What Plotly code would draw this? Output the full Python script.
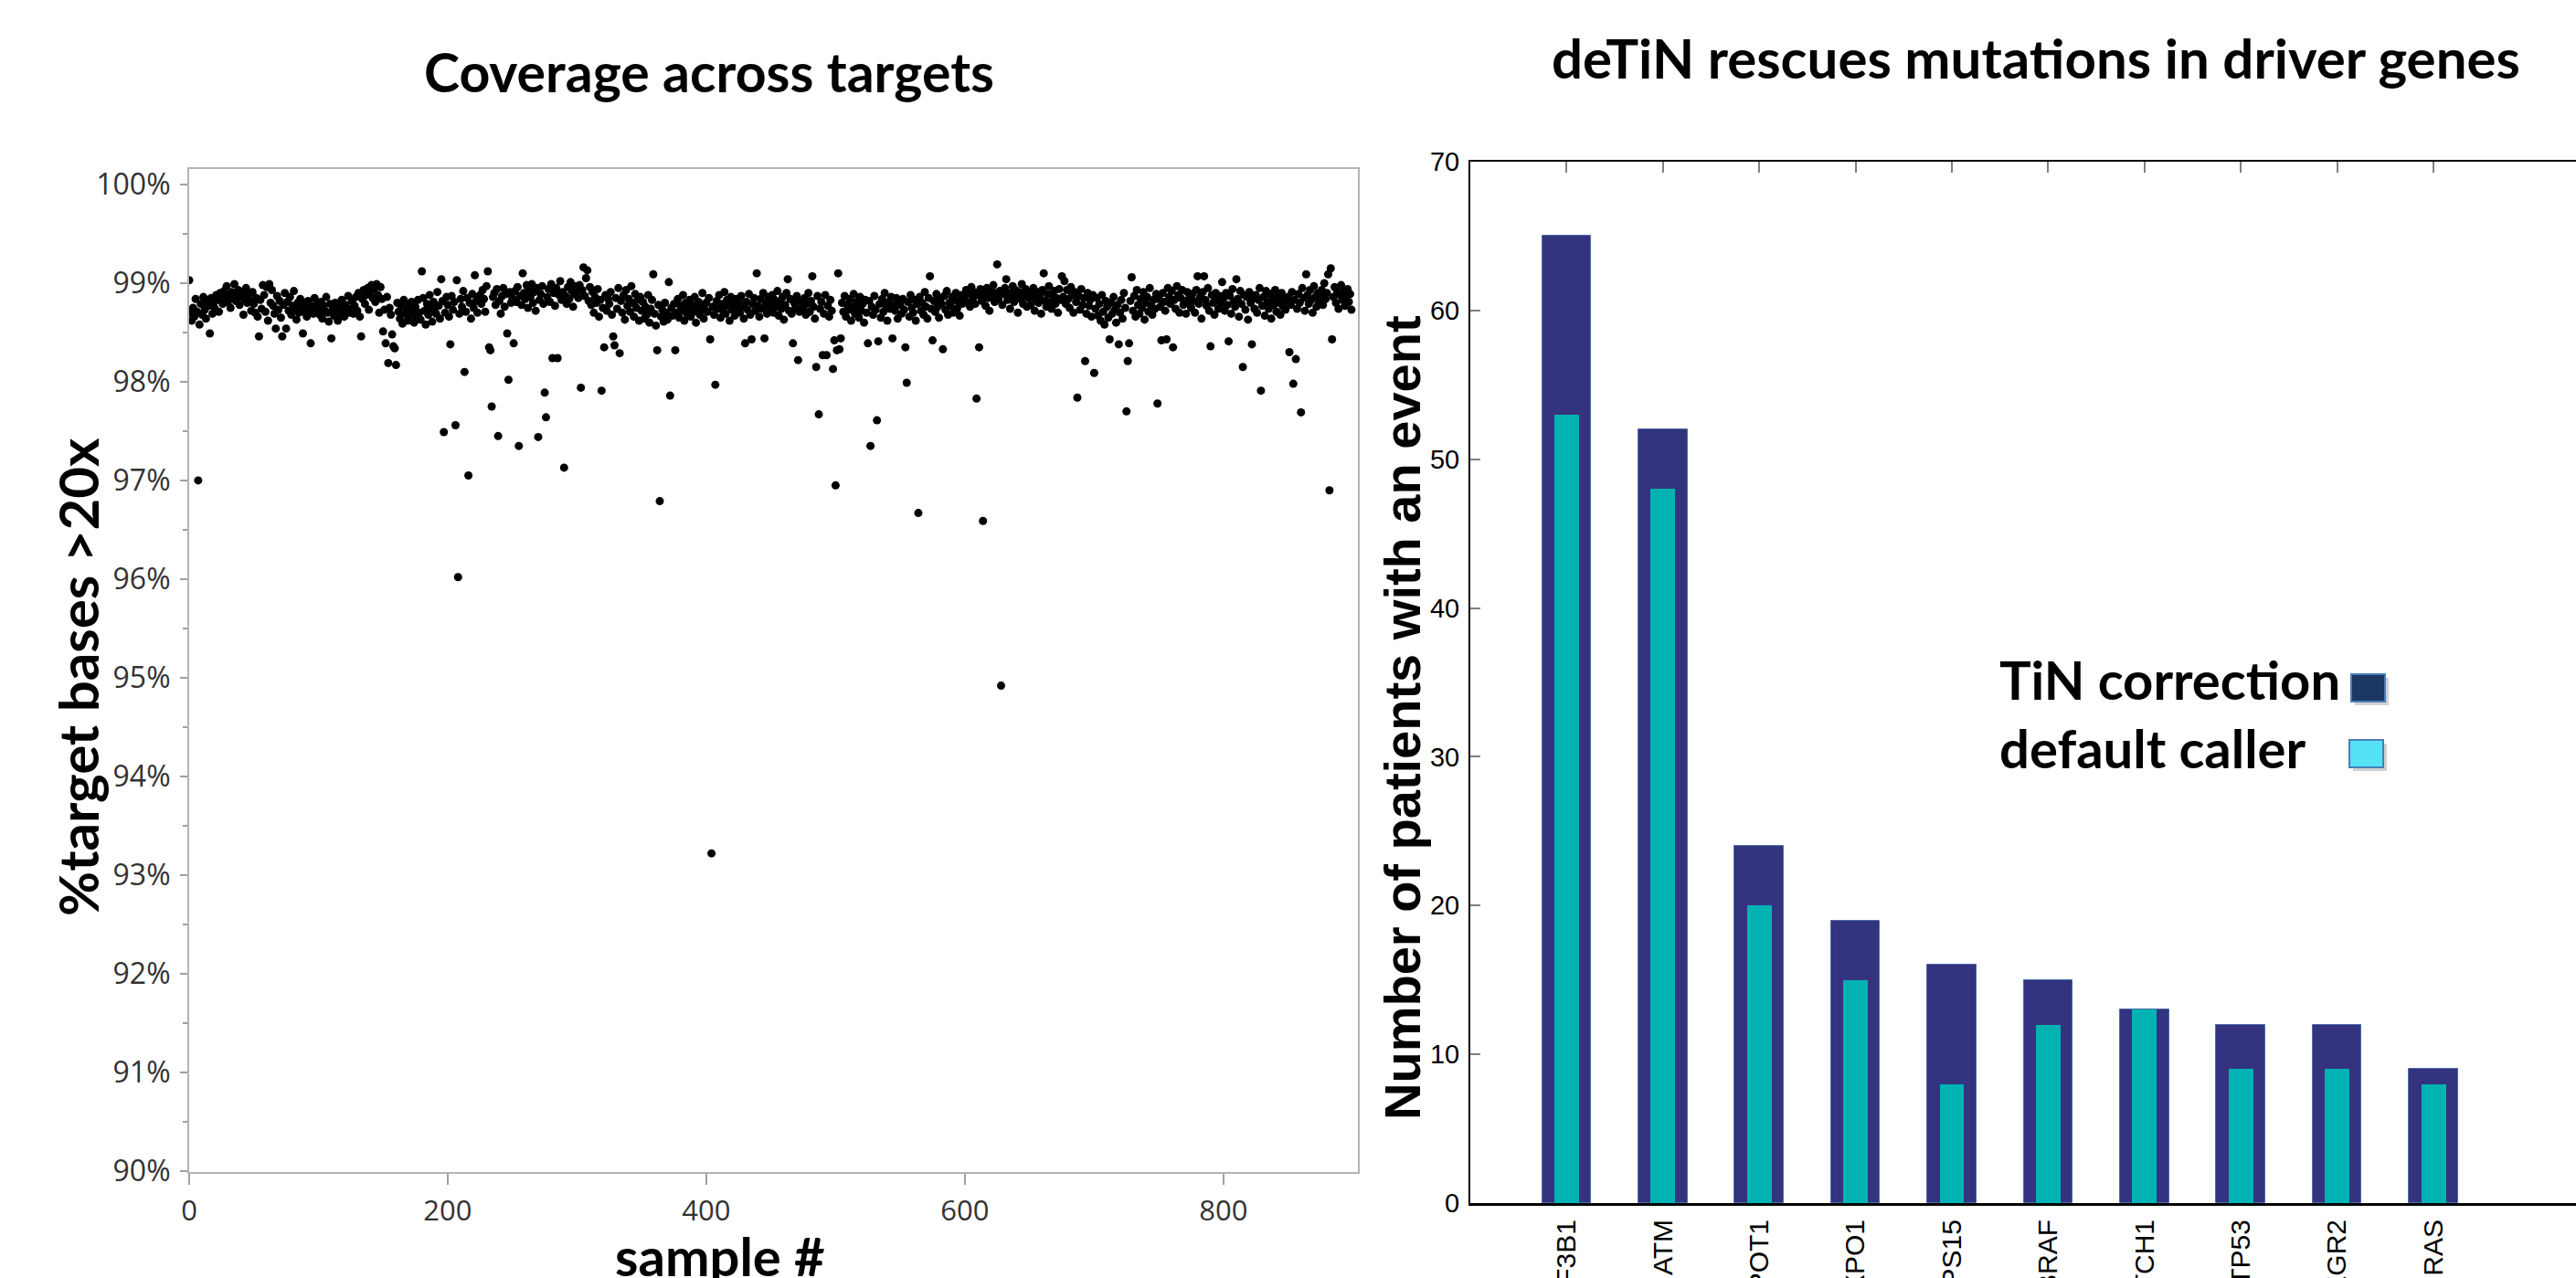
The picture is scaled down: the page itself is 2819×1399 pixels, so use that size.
import plotly.graph_objects as go

W, H = 2819, 1399


def px(x):
    return x / W


def py(y):
    return 1 - y / H


# ---- left chart: % target bases > 20x per sample (percent) ----
coverage = [
    99.03, 98.70, 98.62, 98.75, 98.66, 98.84, 98.71, 97.00, 98.58, 98.79, 98.68, 98.86, 98.73, 98.64, 98.82, 98.77, 98.49, 98.85, 98.69, 98.80, 98.74, 98.88, 98.83, 98.71, 98.90,
    98.86, 98.79, 98.92, 98.84, 98.97, 98.81, 98.88, 98.75, 98.91, 98.85, 98.99, 98.82, 98.87, 98.93, 98.78, 98.86, 98.90, 98.68, 98.84, 98.95, 98.80, 98.88, 98.83, 98.72, 98.91,
    98.79, 98.70, 98.85, 98.66, 98.46, 98.83, 98.74, 98.98, 98.88, 98.71, 98.96, 98.62, 98.99, 98.80, 98.93, 98.77, 98.69, 98.54, 98.87, 98.73, 98.82, 98.65, 98.46, 98.78, 98.90,
    98.54, 98.81, 98.72, 98.86, 98.68, 98.77, 98.92, 98.74, 98.63, 98.80, 98.70, 98.84, 98.76, 98.49, 98.71, 98.79, 98.66, 98.82, 98.73, 98.39, 98.77, 98.69, 98.85, 98.72, 98.78,
    98.75, 98.68, 98.81, 98.64, 98.77, 98.72, 98.86, 98.70, 98.61, 98.79, 98.44, 98.73, 98.67, 98.80, 98.74, 98.62, 98.76, 98.69, 98.83, 98.71, 98.66, 98.78, 98.73, 98.87, 98.70,
    98.74, 98.82, 98.69, 98.77, 98.86, 98.72, 98.90, 98.66, 98.46, 98.84, 98.93, 98.79, 98.88, 98.95, 98.73, 98.91, 98.98, 98.85, 98.94, 98.81, 98.99, 98.88, 98.70, 98.96, 98.84,
    98.51, 98.73, 98.39, 98.86, 98.19, 98.75, 98.68, 98.48, 98.36, 98.34, 98.17, 98.80, 98.71, 98.64, 98.77, 98.59, 98.83, 98.69, 98.74, 98.62, 98.78, 98.67, 98.81, 98.72, 98.60,
    98.76, 98.66, 98.83, 98.70, 98.63, 99.12, 98.85, 98.72, 98.58, 98.79, 98.68, 98.88, 98.74, 98.61, 98.81, 98.75, 98.69, 98.91, 98.77, 98.64, 99.04, 98.82, 97.49, 98.70, 98.86,
    98.78, 98.66, 98.38, 98.87, 98.73, 98.81, 97.56, 99.03, 96.02, 98.69, 98.84, 98.76, 98.92, 98.10, 98.71, 98.85, 97.05, 98.80, 98.64, 98.89, 98.75, 99.08, 98.82, 98.70, 98.86,
    98.88, 98.79, 98.93, 98.84, 98.71, 98.97, 99.12, 98.35, 98.32, 97.75, 98.86, 98.90, 98.78, 98.94, 97.45, 98.82, 98.69, 98.87, 98.95, 98.76, 98.89, 98.49, 98.02, 98.91, 98.80,
    98.85, 98.39, 98.92, 98.81, 98.96, 97.35, 98.87, 98.78, 99.10, 98.90, 98.84, 98.98, 98.75, 98.93, 98.86, 98.99, 98.80, 98.91, 98.72, 98.95, 97.44, 98.83, 98.89, 98.97, 98.79,
    97.89, 97.64, 98.86, 98.94, 98.81, 98.99, 98.24, 98.90, 98.77, 98.95, 98.24, 98.88, 99.02, 98.83, 98.91, 97.13, 98.87, 98.79, 98.96, 98.84, 99.01, 98.92, 98.76, 98.89, 98.97,
    98.90, 98.85, 98.98, 97.94, 98.93, 99.16, 98.87, 99.05, 99.13, 98.82, 98.96, 98.78, 98.91, 98.70, 98.86, 98.80, 98.94, 98.66, 98.83, 97.91, 98.75, 98.35, 98.88, 98.72, 98.84,
    98.79, 98.91, 98.68, 98.46, 98.37, 98.85, 98.74, 98.95, 98.29, 98.82, 98.70, 98.88, 98.63, 98.93, 98.77, 98.84, 98.71, 98.97, 98.80, 98.66, 98.89, 98.75, 98.83, 98.62, 98.86,
    98.72, 98.81, 98.64, 98.76, 98.68, 98.88, 98.60, 98.74, 98.83, 99.09, 98.69, 98.57, 98.32, 98.78, 96.79, 98.66, 98.73, 98.61, 98.80, 98.70, 98.63, 99.01, 97.86, 98.75, 98.67,
    98.79, 98.32, 98.70, 98.84, 98.65, 98.77, 98.72, 98.88, 98.62, 98.80, 98.69, 98.75, 98.83, 98.66, 98.78, 98.71, 98.86, 98.60, 98.74, 98.81, 98.68, 98.77, 98.90, 98.64, 98.73,
    98.80, 98.71, 98.85, 98.43, 93.22, 98.76, 98.68, 97.97, 98.82, 98.74, 98.88, 98.65, 98.79, 98.72, 98.91, 98.69, 98.83, 98.77, 98.62, 98.86, 98.73, 98.80, 98.67, 98.84, 98.75,
    98.82, 98.70, 98.87, 98.76, 98.64, 98.39, 98.81, 98.73, 98.89, 98.68, 98.43, 98.79, 98.85, 98.72, 99.10, 98.77, 98.66, 98.84, 98.74, 98.90, 98.44, 98.80, 98.69, 98.86, 98.75,
    98.79, 98.88, 98.70, 98.83, 98.76, 98.92, 98.67, 98.81, 98.74, 98.86, 98.63, 98.78, 98.90, 99.04, 98.72, 98.84, 98.69, 98.39, 98.80, 98.75, 98.87, 98.22, 98.71, 98.82, 98.77,
    98.73, 98.85, 98.68, 98.79, 98.90, 98.71, 98.82, 99.07, 98.76, 98.64, 98.15, 98.87, 97.67, 98.74, 98.81, 98.27, 98.69, 98.88, 98.27, 98.77, 98.66, 98.83, 98.72, 98.13, 98.42,
    96.95, 98.32, 99.10, 98.33, 98.44, 98.80, 98.71, 98.87, 98.66, 98.78, 98.73, 98.84, 98.62, 98.76, 98.89, 98.69, 98.81, 98.74, 98.65, 98.86, 98.72, 98.79, 98.60, 98.83, 98.70,
    98.39, 98.82, 97.35, 98.76, 98.68, 98.87, 98.73, 97.61, 98.41, 98.79, 98.65, 98.84, 98.71, 98.90, 98.77, 98.62, 98.81, 98.74, 98.86, 98.44, 98.78, 98.72, 98.85, 98.64, 98.80,
    98.78, 98.69, 98.84, 98.73, 98.35, 97.99, 98.81, 98.66, 98.88, 98.75, 98.70, 98.83, 98.62, 98.79, 96.67, 98.86, 98.72, 98.80, 98.68, 98.91, 98.76, 98.64, 98.85, 99.07, 98.74,
    98.42, 98.82, 98.71, 98.89, 98.76, 98.65, 98.84, 98.79, 98.33, 98.87, 98.73, 98.92, 98.68, 98.80, 98.77, 98.86, 98.70, 98.83, 98.90, 98.74, 98.81, 98.67, 98.88, 98.79, 98.85,
    98.87, 98.93, 98.80, 98.90, 98.76, 98.96, 98.84, 98.91, 98.79, 97.83, 98.88, 98.35, 98.94, 98.82, 96.59, 98.89, 98.77, 98.95, 98.85, 98.72, 98.92, 98.86, 98.98, 98.81, 98.90,
    99.19, 98.84, 98.92, 94.92, 98.78, 98.89, 98.95, 99.04, 98.83, 98.90, 98.74, 98.87, 98.97, 98.81, 98.93, 98.86, 98.70, 98.91, 98.84, 98.99, 98.79, 98.88, 98.94, 98.76, 98.85,
    98.90, 98.78, 98.86, 98.95, 98.72, 98.84, 98.91, 98.80, 98.87, 98.69, 98.93, 99.10, 98.82, 98.76, 98.89, 98.97, 98.81, 98.74, 98.88, 98.92, 98.79, 98.85, 98.70, 98.94, 98.83,
    99.07, 98.86, 99.02, 98.79, 98.93, 98.84, 98.75, 98.96, 98.88, 98.70, 98.91, 98.81, 97.84, 98.87, 98.73, 98.94, 98.78, 98.85, 98.21, 98.69, 98.90, 98.77, 98.83, 98.66, 98.88,
    98.09, 98.74, 98.85, 98.67, 98.79, 98.62, 98.88, 98.71, 98.58, 98.82, 98.76, 98.65, 98.43, 98.80, 98.69, 98.86, 98.73, 98.60, 98.78, 98.38, 98.70, 98.83, 98.64, 98.90, 98.75,
    97.70, 98.21, 98.39, 98.82, 99.06, 98.72, 98.87, 98.66, 98.93, 98.78, 98.69, 98.84, 98.75, 98.91, 98.63, 98.80, 98.86, 98.71, 98.95, 98.77, 98.68, 98.83, 98.74, 98.89, 97.78,
    98.84, 98.76, 98.42, 98.90, 98.81, 98.72, 98.43, 98.95, 98.86, 98.79, 98.92, 98.35, 98.83, 98.74, 98.97, 98.88, 98.70, 98.85, 98.93, 98.78, 98.82, 98.69, 98.91, 98.80, 98.87,
    98.75, 98.89, 98.82, 98.70, 98.93, 99.07, 98.79, 98.86, 98.64, 98.91, 99.07, 98.83, 98.77, 98.95, 98.72, 98.36, 98.88, 98.80, 98.68, 98.90, 98.84, 98.74, 98.87, 98.79, 99.01,
    98.85, 98.72, 98.90, 98.78, 98.41, 98.87, 98.69, 98.94, 98.81, 98.76, 99.04, 98.84, 98.66, 98.92, 98.79, 98.15, 98.88, 98.73, 98.86, 98.63, 98.91, 98.80, 98.38, 98.85, 98.74,
    98.88, 98.70, 98.83, 98.95, 97.91, 98.77, 98.86, 98.67, 98.92, 98.81, 98.74, 98.89, 98.64, 98.84, 98.78, 98.93, 98.71, 98.87, 98.80, 98.68, 98.90, 98.76, 98.85, 98.73, 98.82,
    98.86, 98.30, 98.78, 98.91, 97.98, 98.83, 98.23, 98.74, 98.89, 98.80, 97.69, 98.95, 98.85, 98.72, 99.09, 98.88, 98.79, 98.93, 98.83, 98.70, 98.97, 98.86, 98.76, 98.90, 98.81,
    98.87, 98.93, 98.78, 99.00, 98.84, 98.90, 99.09, 96.90, 99.15, 98.43, 98.86, 98.96, 98.80, 98.91, 98.74, 98.88, 98.98, 98.83, 98.92, 98.77, 98.85, 98.94, 98.81, 98.89, 98.73,
]
sample_number = list(range(len(coverage)))
cov_tick_vals = [90, 91, 92, 93, 94, 95, 96, 97, 98, 99, 100]
cov_tick_text = ["90%", "91%", "92%", "93%", "94%", "95%", "96%", "97%", "98%", "99%", "100%"]
cov_minor_vals = [90.5, 91.5, 92.5, 93.5, 94.5, 95.5, 96.5, 97.5, 98.5, 99.5]
sample_tick_vals = [0, 200, 400, 600, 800]

# ---- right chart: patients with an event per driver gene ----
genes = ["SF3B1", "ATM", "POT1", "XPO1", "RPS15", "BRAF", "NOTCH1", "TP53", "EGR2", "NRAS"]
tin_correction = [65, 52, 24, 19, 16, 15, 13, 12, 12, 9]
default_caller = [53, 48, 20, 15, 8, 12, 13, 9, 9, 8]
count_tick_vals = [0, 10, 20, 30, 40, 50, 60, 70]

CAL = "Lato"
ARIAL = "Liberation Sans"

fig = go.Figure()
fig.add_trace(go.Scatter(
    x=sample_number, y=coverage, mode="markers",
    marker=dict(color="black", size=9, line=dict(width=0)),
    xaxis="x", yaxis="y", showlegend=False, hoverinfo="x+y"))
fig.add_trace(go.Bar(
    x=genes, y=tin_correction, width=0.51, name="TiN correction",
    marker=dict(color="#333380", line=dict(color="#4b6fa5", width=1)),
    xaxis="x2", yaxis="y2", showlegend=False))
fig.add_trace(go.Bar(
    x=genes, y=default_caller, width=0.256, name="default caller",
    marker=dict(color="#00b3b3", line=dict(width=0)),
    xaxis="x2", yaxis="y2", showlegend=False))
# invisible helper so the top axis carries the same categories (for its tick marks)
fig.add_trace(go.Scatter(
    x=genes, y=tin_correction, mode="markers", marker=dict(opacity=0),
    xaxis="x3", yaxis="y2", showlegend=False, hoverinfo="skip"))

fig.update_layout(
    width=W, height=H, autosize=False,
    margin=dict(l=0, r=0, t=0, b=0),
    paper_bgcolor="white", plot_bgcolor="white",
    barmode="overlay", bargap=0, showlegend=False,
    xaxis=dict(
        domain=[px(207), px(1486)], range=[0, 904], anchor="y",
        tickmode="array", tickvals=sample_tick_vals,
        ticks="outside", ticklen=12, tickwidth=1.5, tickcolor="#a0a0a0",
        showline=True, linecolor="#b4b4b4", linewidth=2, mirror=True,
        showgrid=False, zeroline=False,
        tickfont=dict(family="Open Sans", size=31, color="#333333"),
        ticklabelstandoff=2, automargin=False),
    yaxis=dict(
        domain=[py(1283), py(185)], range=[89.99, 100.157], anchor="x",
        tickmode="array", tickvals=cov_tick_vals, ticktext=cov_tick_text,
        ticks="outside", ticklen=8, tickwidth=1.5, tickcolor="#a0a0a0",
        minor=dict(tickmode="array", tickvals=cov_minor_vals, ticks="outside",
                   ticklen=5, tickwidth=1.5, tickcolor="#a0a0a0", showgrid=False),
        showline=True, linecolor="#b4b4b4", linewidth=2, mirror=True,
        showgrid=False, zeroline=False,
        tickfont=dict(family="Open Sans", size=32, color="#333333"),
        ticklabelstandoff=4, automargin=False),
    xaxis2=dict(
        domain=[px(1609), 1.0], range=[-1, 10.48], type="category", anchor="y2",
        categoryorder="array", categoryarray=genes,
        ticks="", tickangle=-90, showline=True, linecolor="black", linewidth=3,
        showgrid=False, zeroline=False,
        tickfont=dict(family=ARIAL, size=30, color="black"),
        ticklabelstandoff=3, automargin=False),
    xaxis3=dict(
        overlaying="x2", side="top", anchor="y2", range=[-1, 10.48], type="category",
        categoryorder="array", categoryarray=genes,
        ticks="inside", ticklen=12, tickwidth=2, tickcolor="#808080",
        showticklabels=False, showline=True, linecolor="black", linewidth=2,
        showgrid=False, zeroline=False, automargin=False),
    yaxis2=dict(
        domain=[py(1317), py(177)], range=[0, 70], anchor="x2",
        tickmode="array", tickvals=count_tick_vals,
        ticks="inside", ticklen=11, tickwidth=2, tickcolor="#808080",
        showline=True, linecolor="black", linewidth=2,
        showgrid=False, zeroline=False,
        tickfont=dict(family=ARIAL, size=29, color="black"),
        ticklabelstandoff=4, automargin=False),
)

annotations = [
    dict(text="<b>Coverage across targets</b>", x=px(776), y=py(79),
         font=dict(family=CAL, size=59, color="black")),
    dict(text="<b>deTiN rescues mutations in driver genes</b>", x=px(2228), y=py(63),
         font=dict(family=CAL, size=60, color="black")),
    dict(text="<b>%target bases >20x</b>", x=px(85), y=py(741), textangle=-90,
         font=dict(family=CAL, size=60, color="black")),
    dict(text="<b>sample #</b>", x=px(788), y=py(1374),
         font=dict(family=CAL, size=58, color="black")),
    dict(text="<b>Number of patients with an event</b>", x=px(1534), y=py(786), textangle=-90,
         font=dict(family=ARIAL, size=56, color="black")),
    dict(text="<b>TiN correction</b>", x=px(2186), y=py(743), xanchor="left",
         font=dict(family=CAL, size=58, color="black")),
    dict(text="<b>default caller</b>", x=px(2186), y=py(818), xanchor="left",
         font=dict(family=CAL, size=58, color="black")),
]
for a in annotations:
    a.setdefault("xanchor", "center")
    a.update(xref="paper", yref="paper", yanchor="middle", showarrow=False)
fig.update_layout(annotations=annotations)

shapes = []
for (x0, y0, fill) in [(2573, 738, "#1b3762"), (2571, 810, "#56e2f4")]:
    shapes.append(dict(type="rect", xref="paper", yref="paper",
                       x0=px(x0 + 4), x1=px(x0 + 41), y0=py(y0 + 34), y1=py(y0 + 4),
                       fillcolor="#bdbdbd", opacity=0.7, line=dict(width=0), layer="above"))
    shapes.append(dict(type="rect", xref="paper", yref="paper",
                       x0=px(x0), x1=px(x0 + 37), y0=py(y0 + 30), y1=py(y0),
                       fillcolor=fill, line=dict(color="#4a7ebb", width=2), layer="above"))
fig.update_layout(shapes=shapes)

fig.write_html("out.html", config={"displayModeBar": False},
               post_script="document.body.style.margin='0';")
